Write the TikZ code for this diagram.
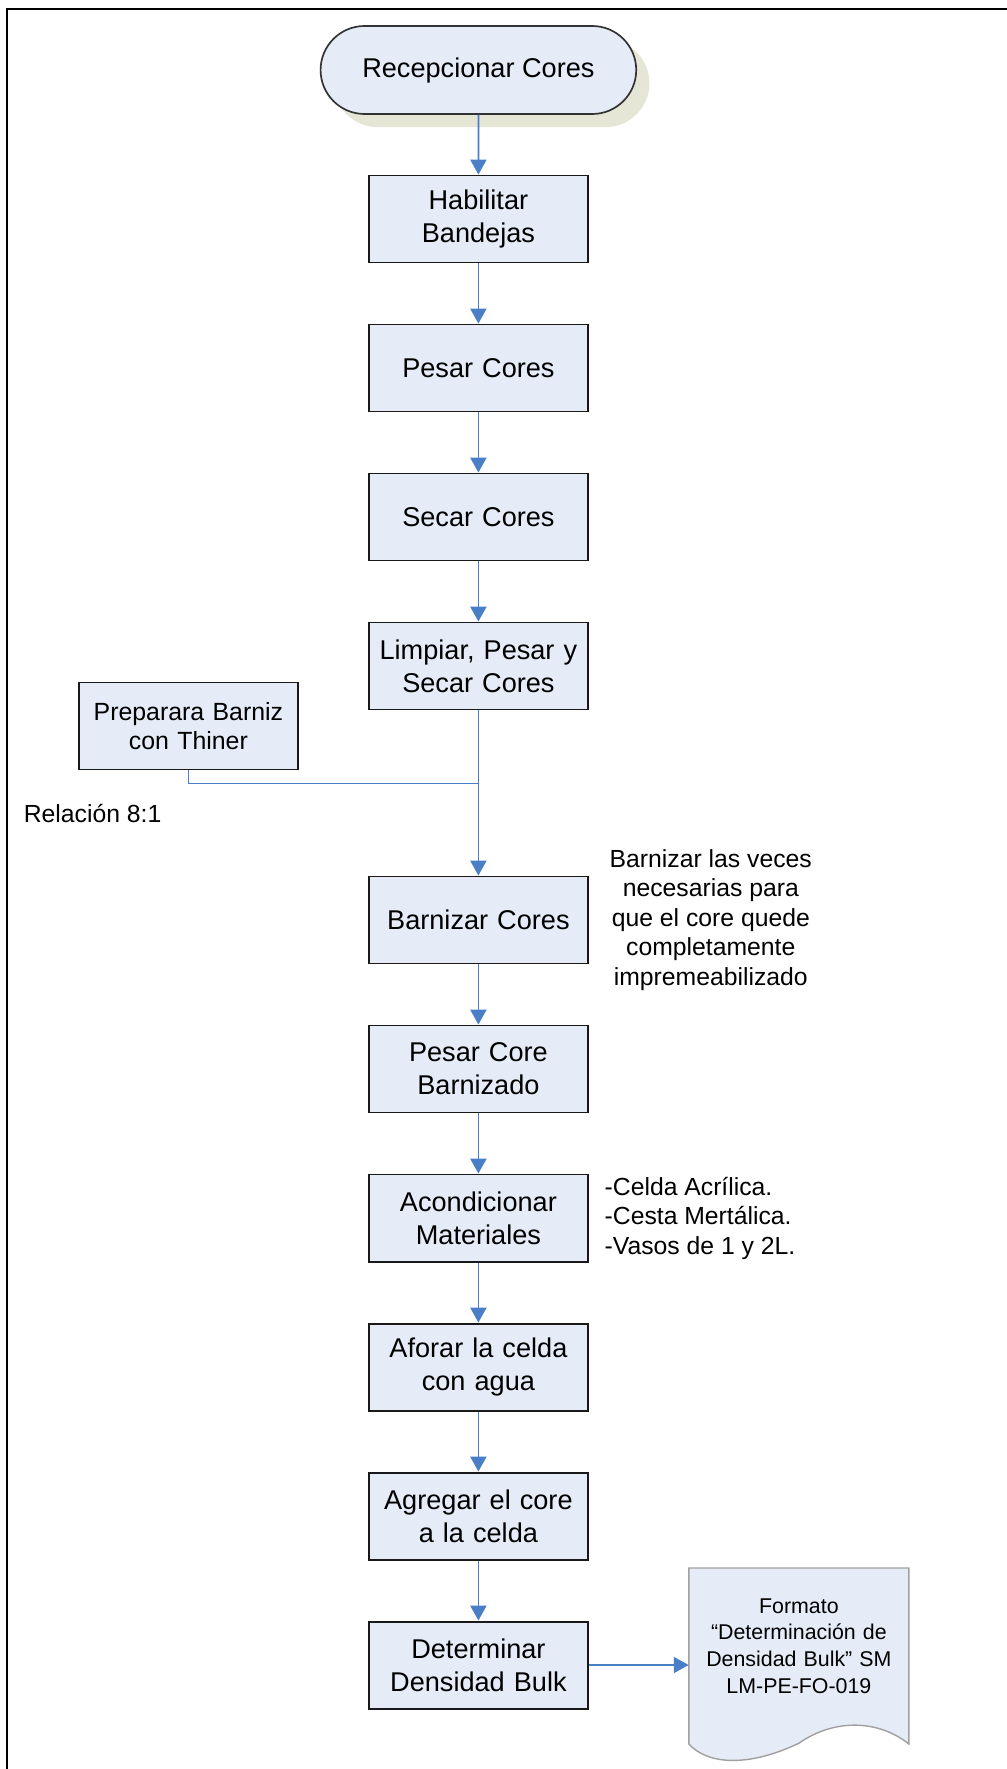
\documentclass[tikz,border=0pt]{standalone}
\usepackage{fontspec}
\setmainfont{Liberation Sans}
\usetikzlibrary{shapes.geometric, shapes.misc, arrows.meta, positioning, shadows, backgrounds}

\definecolor{boxfill}{RGB}{230,236,247}
\definecolor{flowblue}{RGB}{74,126,199}
\definecolor{shadowgray}{RGB}{229,230,214}
\definecolor{docgray}{RGB}{160,160,160}

\tikzstyle{startstop} = [rounded rectangle, minimum width=8.125cm, minimum height=2.2cm, text centered, draw=black!80, line width=1.2pt, fill=boxfill, font=\fontsize{19.3}{23.3}\selectfont, drop shadow={shadow xshift=0.33cm, shadow yshift=-0.33cm, fill=shadowgray, opacity=1}]
\tikzstyle{process} = [rectangle, minimum width=5.475cm, minimum height=2.175cm, text width=5.1cm, align=center, draw=black!90, line width=1.4pt, fill=boxfill, font=\fontsize{19.3}{23.3}\selectfont]
\tikzstyle{note} = [align=center, font=\fontsize{17.6}{21}\selectfont]
\tikzstyle{docu} = [minimum width=5.5cm, text width=5.2cm, inner sep=0pt, align=center, font=\fontsize{15.2}{18.9}\selectfont]
\tikzstyle{docline} = [draw=docgray, line width=1pt, fill=boxfill]
\tikzstyle{arrow} = [draw=flowblue, line width=1.2pt, -{Triangle[width=0.4cm, length=0.37cm]}]
\tikzstyle{line} = [draw=flowblue, line width=1.2pt]

\begin{document}
\begin{tikzpicture}[node distance=3.725cm]
	\useasboundingbox (0,0) rectangle (25.175,-44.225);
	% page frame (top and left only)
	\draw [line width=1.6pt] (0.17,-44.225) -- (0.17,-0.2175) -- (25.175,-0.2175);

	\node (rec) [startstop] at (11.96,-1.75) {Recepcionar Cores};
	\node (hab) [process, below of=rec] {Habilitar\\Bandejas};
	\node (pes) [process, below of=hab] {Pesar Cores};
	\node (sec) [process, below of=pes] {Secar Cores};
	\node (lim) [process, below of=sec] {Limpiar, Pesar y\\Secar Cores};
	\node (prep) [process, node distance=7.25cm, left of=lim, yshift=-1.5cm, font=\fontsize{17.7}{20.4}\selectfont] {Preparara Barniz\\con Thiner};
	\node (rel) [note, anchor=west] at (0.47,-20.34) {Relación 8:1};
	\node (barn) [process, node distance=6.35cm, below of=lim] {Barnizar Cores};
	\node (nbarn) [note, node distance=5.81cm, right of=barn] {Barnizar las veces\\necesarias para\\que el core quede\\completamente\\impremeabilizado};
	\node (pcb) [process, below of=barn] {Pesar Core\\Barnizado};
	\node (acon) [process, below of=pcb] {Acondicionar\\Materiales};
	\node (nacon) [note, align=left, right=0.27cm of acon] {-Celda Acrílica.\\-Cesta Mertálica.\\-Vasos de 1 y 2L.};
	\node (afo) [process, below of=acon] {Aforar la celda\\con agua};
	\node (agr) [process, below of=afo] {Agregar el core\\a la celda};
	\node (det) [process, below of=agr] {Determinar\\Densidad Bulk};
	\node (doc) [docu, node distance=8.0125cm, right of=det, yshift=0.475cm] {Formato\\“Determinación de\\Densidad Bulk" SM\\LM-PE-FO-019};

	% document outline
	\begin{scope}[on background layer, shift={(doc.center)}]
		\draw [docline] (-2.75,1.95) -- (2.75,1.95) -- (2.75,-2.45)
			.. controls (2.0,-1.85) and (0.9,-1.8) .. (0,-2.43)
			.. controls (-1.3,-3.05) and (-2.3,-2.95) .. (-2.75,-2.45) -- cycle;
	\end{scope}

	\draw [arrow] (rec) -- (hab);
	\draw [arrow] (hab) -- (pes);
	\draw [arrow] (pes) -- (sec);
	\draw [arrow] (sec) -- (lim);
	\draw [arrow] (lim) -- (barn);
	\path (lim.south) ++(0,-1.825) coordinate (join);
	\draw [line] (prep) |- (join);
	\draw [arrow] (barn) -- (pcb);
	\draw [arrow] (pcb) -- (acon);
	\draw [arrow] (acon) -- (afo);
	\draw [arrow] (afo) -- (agr);
	\draw [arrow] (agr) -- (det);
	\draw [arrow] (det.east) -- (det.east -| doc.west);
\end{tikzpicture}
\end{document}
